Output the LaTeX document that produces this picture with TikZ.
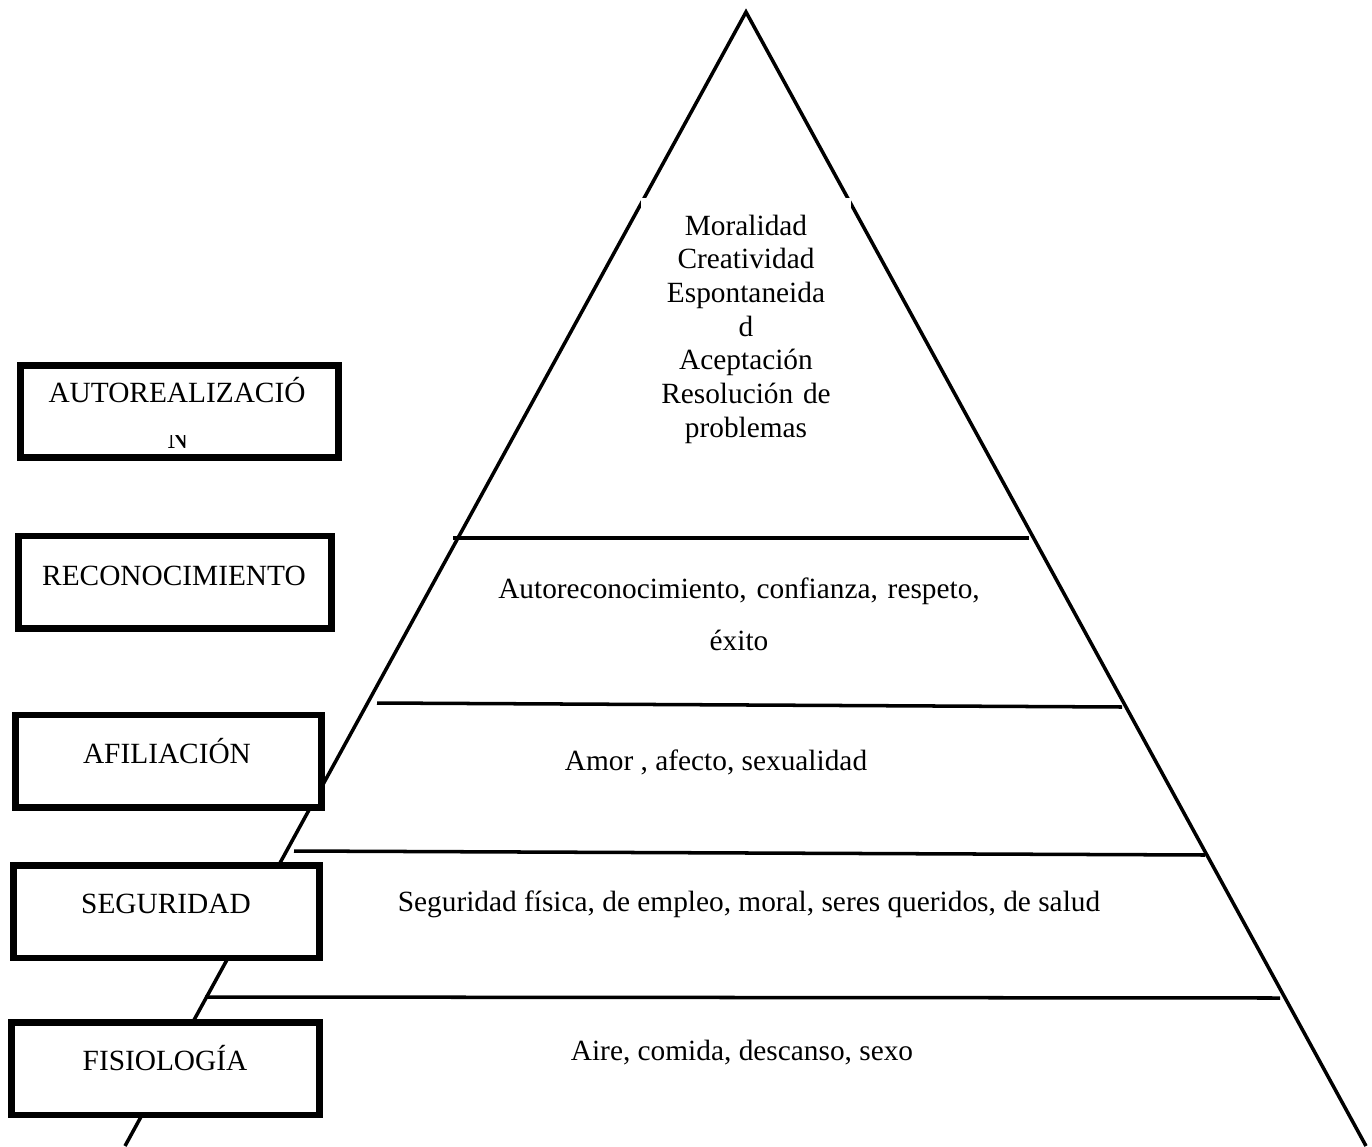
\documentclass[tikz,border=0pt]{standalone}
\usepackage{fontspec}
\setmainfont{Liberation Serif}
\usetikzlibrary{positioning}
\tikzset{
  pyrline/.style={line width=2pt},
  levelbox/.style={draw, line width=3.7pt, fill=white, minimum height=1.85cm, inner sep=0pt},
  leveltext/.style={anchor=base, inner sep=0pt, font=\fontsize{16.7}{19.2}\selectfont},
}

\begin{document}
\begin{tikzpicture}[x=0.02cm, y=-0.02cm]
  \useasboundingbox (0,0) rectangle (1372,1146);
  % piramide
  \coordinate (apex) at (746,12);
  \coordinate (baseL) at (125,1146);
  \coordinate (baseR) at (1366,1146);
  \draw[pyrline, miter limit=20] (baseL) -- (apex) -- (baseR);
  \draw[pyrline] (453,538) -- (1029,538);
  \draw[pyrline] (377,703) -- (1122,707);
  \draw[pyrline] (294,851) -- (1205,855);
  \draw[pyrline] (205,997) -- (1280,998);
  % textos dentro de la piramide
  \node[leveltext, fill=white, text width=4.2cm, align=center, inner ysep=0.33cm] (cimaText) at (746,235)
    {Moralidad\\Creatividad\\Espontaneida\\d\\Aceptación\\Resolución de\\problemas};
  \node[leveltext, text width=10cm, align=center] (reconText) at (739,598)
    {Autoreconocimiento, confianza, respeto,\\[0.37cm]éxito};
  \node[leveltext] (afilText) at (716,770) {Amor , afecto, sexualidad};
  \node[leveltext] (seguText) at (749,911) {Seguridad física, de empleo, moral, seres queridos, de salud};
  \node[leveltext] (fisioText) at (742,1060) {Aire, comida, descanso, sexo};
  % cajas de niveles
  \node[levelbox, minimum width=6.37cm] (autoBox) at (179.5,411.5) {};
  \node[leveltext] (autoLabel) at (177,402) {AUTOREALIZACIÓ};
  \begin{scope}
    \clip (20,435) rectangle (339,458);
    \node[leveltext] (autoLabelN) at (178,448) {N};
  \end{scope}
  \node[levelbox, minimum width=6.27cm] (reconBox) at (175,582) {};
  \node[leveltext] (reconLabel) at (174,585) {RECONOCIMIENTO};
  \node[levelbox, minimum width=6.13cm] (afilBox) at (168.5,761) {};
  \node[leveltext] (afilLabel) at (167,763) {AFILIACIÓN};
  \node[levelbox, minimum width=6.13cm] (seguBox) at (166.5,911.5) {};
  \node[leveltext] (seguLabel) at (166,913) {SEGURIDAD};
  \node[levelbox, minimum width=6.17cm] (fisioBox) at (165.5,1068.5) {};
  \node[leveltext] (fisioLabel) at (165,1070) {FISIOLOGÍA};
\end{tikzpicture}
\end{document}
